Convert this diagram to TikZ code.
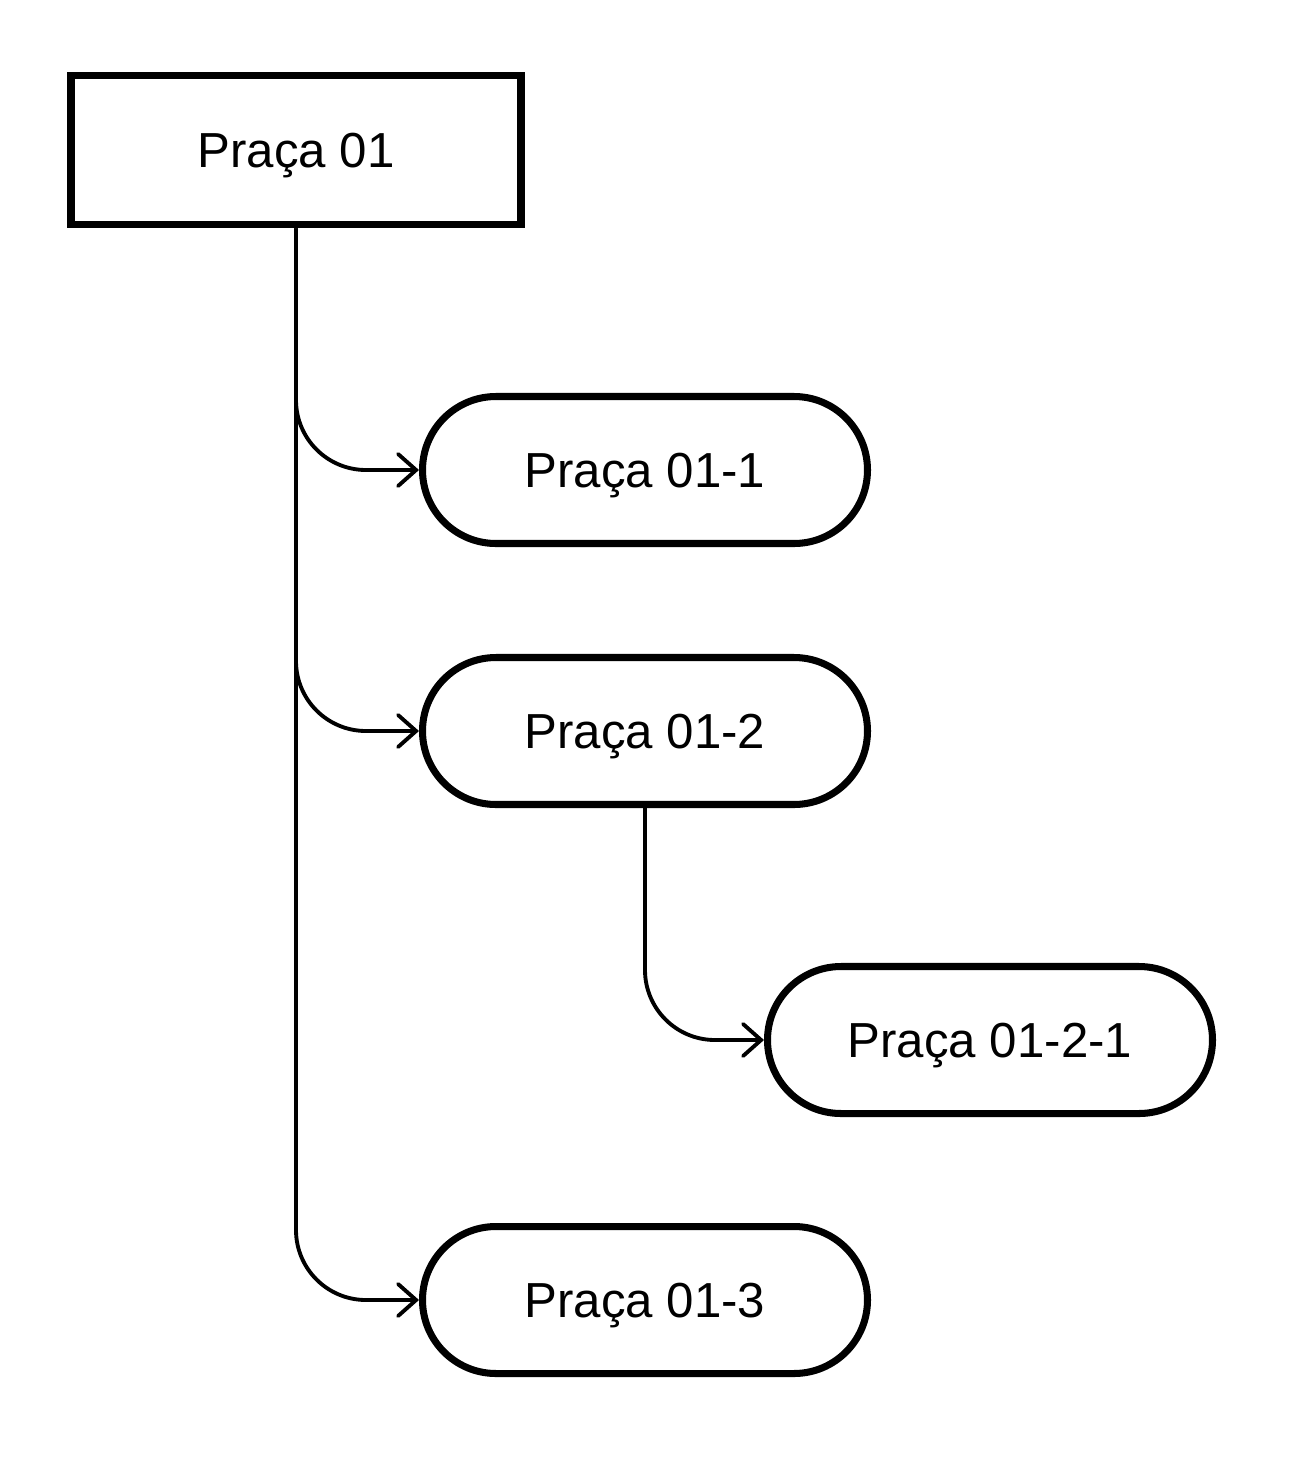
\documentclass[tikz,border=0pt]{standalone}
\usepackage{fontspec}
\setmainfont{Liberation Sans}
\usetikzlibrary{arrows.meta}
\tikzset{
  label text/.style={font=\fontsize{28}{34}\selectfont, text height=20pt, text depth=0pt},
  rootbox/.style={draw, line width=4.5pt, minimum width=9cm, minimum height=2.98cm, label text},
  placebox/.style={draw, line width=4pt, rounded corners=1.47cm, minimum width=8.9cm, minimum height=2.94cm, label text},
  link/.style={line width=2.2pt, rounded corners=1.4cm, -{Straight Barb[length=0.36cm,width=0.64cm,line cap=round]}}
}

\begin{document}
\begin{tikzpicture}
  \useasboundingbox (0,0) rectangle (26.04,-29.26);
  \node[rootbox] (P) at (5.92,-3) {Praça 01};
  \node[placebox] (P1) at (12.9,-9.4) {Praça 01-1};
  \node[placebox] (P2) at (12.9,-14.62) {Praça 01-2};
  \node[placebox] (P21) at (19.8,-20.8) {Praça 01-2-1};
  \node[placebox] (P3) at (12.9,-26.0) {Praça 01-3};
  \draw[link] (P.south) |- (P1.west);
  \draw[link] (P.south) |- (P2.west);
  \draw[link] (P.south) |- (P3.west);
  \draw[link] (P2.south) |- (P21.west);
\end{tikzpicture}
\end{document}
